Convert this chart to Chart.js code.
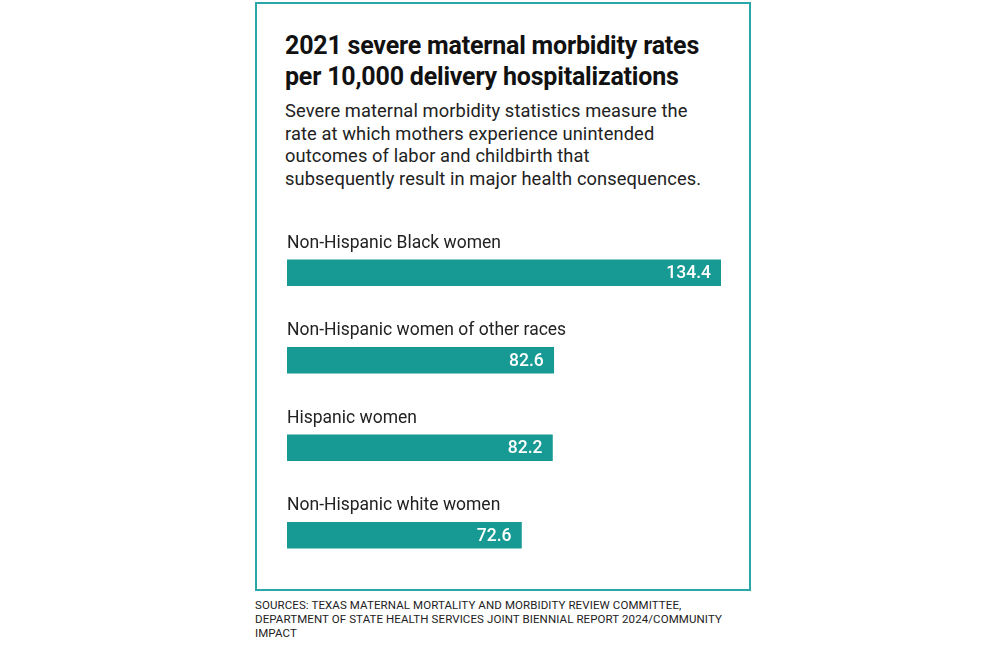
<!DOCTYPE html>
<html><head><meta charset="utf-8">
<script src="https://cdn.jsdelivr.net/npm/chart.js@4"></script>
<style>
body{margin:0;width:1000px;height:647px;background:#fff;font-family:Roboto,sans-serif;position:relative;overflow:hidden}
#box{position:absolute;left:255px;top:2px;width:492px;height:585px;border:2px solid #2aa7a8}
#t{position:absolute;left:285px;top:30px;font-weight:700;font-size:25px;line-height:31px;color:#111;letter-spacing:-0.2px}
#s{position:absolute;left:285px;top:100px;font-size:18.3px;line-height:22.5px;color:#222;white-space:nowrap;letter-spacing:0.1px}
#src{position:absolute;left:255px;top:598px;font-size:11.5px;line-height:14px;color:#222;white-space:nowrap;letter-spacing:0.1px}
#wrap{position:absolute;left:287px;top:229px;width:434px;height:350px}
</style></head><body>
<div id="box"></div>
<div id="t">2021 severe maternal morbidity rates<br>per 10,000 delivery hospitalizations</div>
<div id="s">Severe maternal morbidity statistics measure the<br>rate at which mothers experience unintended<br>outcomes of labor and childbirth that<br>subsequently result in major health consequences.</div>
<div id="wrap"><canvas id="c"></canvas></div>
<div id="src">SOURCES: TEXAS MATERNAL MORTALITY AND MORBIDITY REVIEW COMMITTEE,<br>DEPARTMENT OF STATE HEALTH SERVICES JOINT BIENNIAL REPORT 2024/COMMUNITY<br>IMPACT</div>
<script>
const categories=["Non-Hispanic Black women","Non-Hispanic women of other races","Hispanic women","Non-Hispanic white women"];
const rates=[134.4,82.6,82.2,72.6];
const labelPlugin={id:'lbl',afterDatasetsDraw(chart){
 const ctx=chart.ctx;const meta=chart.getDatasetMeta(0);
 meta.data.forEach((b,i)=>{
  ctx.save();
  ctx.font='17.5px Roboto';ctx.fillStyle='#222';ctx.textBaseline='alphabetic';ctx.textAlign='left';
  ctx.fillText(categories[i],b.base,b.y-13-12);
  ctx.font='500 17.5px Roboto';ctx.fillStyle='#fff';ctx.textAlign='right';ctx.textBaseline='middle';
  ctx.fillText(rates[i].toFixed(1),b.x-10,b.y+1);
  ctx.restore();});
}};
new Chart(document.getElementById('c'),{type:'bar',
 data:{labels:categories,datasets:[{data:rates,backgroundColor:'#179a94',barThickness:26}]},
 options:{indexAxis:'y',responsive:true,maintainAspectRatio:false,animation:false,
  layout:{padding:0},
  plugins:{legend:{display:false},tooltip:{enabled:false}},
  scales:{x:{display:false,min:0,max:134.4},y:{display:false}}},
 plugins:[labelPlugin]});
</script></body></html>
